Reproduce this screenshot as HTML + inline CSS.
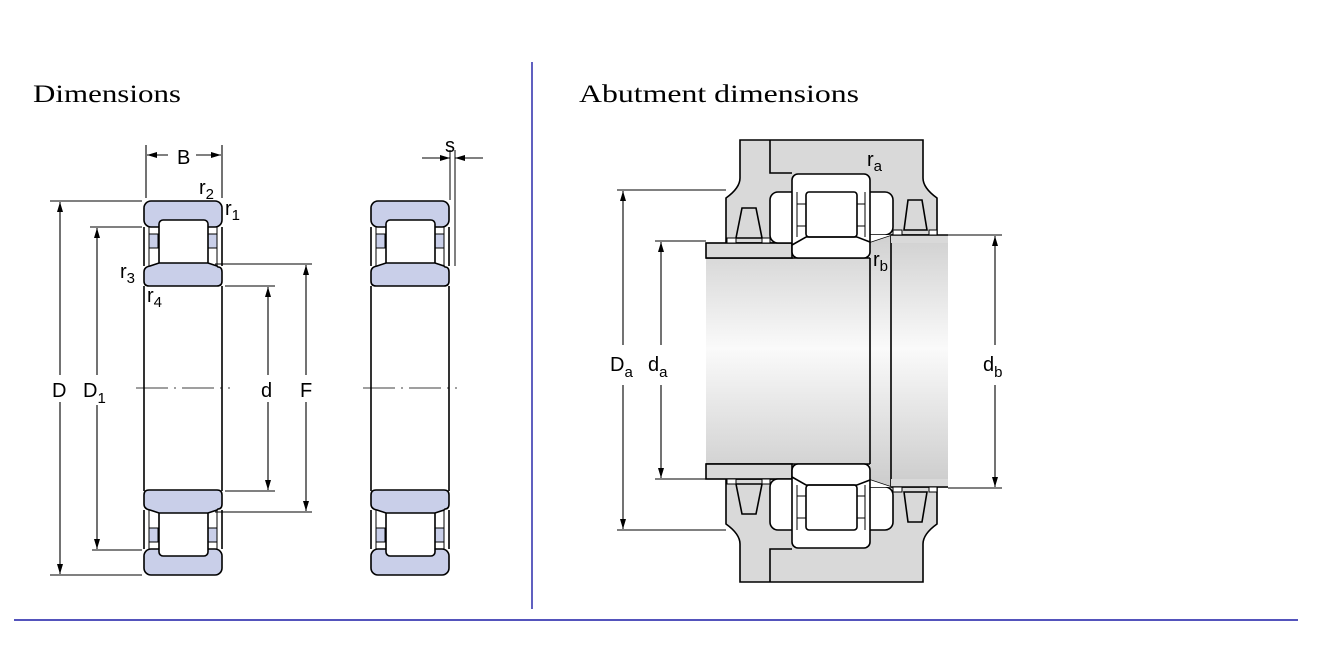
<!DOCTYPE html>
<html><head><meta charset="utf-8"><style>
html,body{margin:0;padding:0;background:#fff;}
svg{display:block;}
text{font-family:"Liberation Sans",Arial,sans-serif;font-size:20px;fill:#000;}
.t{font-family:"Liberation Serif",serif;font-size:25px;}
</style></head><body>
<svg width="1322" height="653" viewBox="0 0 1322 653" xmlns="http://www.w3.org/2000/svg">
<defs>
<marker id="a" viewBox="0 0 10 10" refX="10" refY="5" markerWidth="10" markerHeight="10" orient="auto-start-reverse" markerUnits="userSpaceOnUse"><path d="M0,2 L10,5 L0,8z" fill="#000"/></marker>
<linearGradient id="sh" x1="0" y1="0" x2="0" y2="1"><stop offset="0" stop-color="#d0d0d0"/><stop offset="0.45" stop-color="#fafafa"/><stop offset="1" stop-color="#cbcbcb"/></linearGradient>
<g id="brg">
 <rect x="144" y="201" width="78" height="26" rx="7" fill="#c9cfe9" stroke="#000" stroke-width="1.6"/>
 <line x1="144" y1="227" x2="144" y2="266" stroke="#000" stroke-width="1.6"/>
 <line x1="222" y1="227" x2="222" y2="266" stroke="#000" stroke-width="1.6"/>
 <rect x="149" y="234" width="9" height="14" fill="#c9cfe9" stroke="#000" stroke-width="1"/>
 <rect x="208" y="234" width="9" height="14" fill="#c9cfe9" stroke="#000" stroke-width="1"/>
 <line x1="149" y1="227" x2="149" y2="266" stroke="#000" stroke-width="1"/>
 <line x1="217" y1="227" x2="217" y2="266" stroke="#000" stroke-width="1"/>
 <rect x="159" y="220" width="49" height="46" rx="4" fill="#fff" stroke="#000" stroke-width="1.6"/>
 <path d="M150,266 L159,263 L208,263 L217,266 L218,267 Q222,267 222,272 L222,281 Q222,286 217,286 L149,286 Q144,286 144,281 L144,272 Q144,267 150,266z" fill="#c9cfe9" stroke="#000" stroke-width="1.6"/>
</g>
</defs>

<text class="t" x="33" y="102" textLength="148" lengthAdjust="spacingAndGlyphs">Dimensions</text>
<text class="t" x="579" y="102" textLength="280" lengthAdjust="spacingAndGlyphs">Abutment dimensions</text>

<line x1="532" y1="62" x2="532" y2="609" stroke="#1c1ca6" stroke-width="1.4"/>
<line x1="14" y1="620" x2="1298" y2="620" stroke="#1c1ca6" stroke-width="1.4"/>

<!-- bearing 1 -->
<use href="#brg"/>
<use href="#brg" transform="translate(0,776) scale(1,-1)"/>
<line x1="144" y1="286" x2="144" y2="491" stroke="#000" stroke-width="1.6"/>
<line x1="222" y1="286" x2="222" y2="491" stroke="#000" stroke-width="1.6"/>
<line x1="136" y1="388" x2="230" y2="388" stroke="#000" stroke-width="0.8" stroke-dasharray="32,6,2,6"/>
<!-- bearing 2 -->
<use href="#brg" transform="translate(227,0)"/>
<use href="#brg" transform="translate(227,776) scale(1,-1)"/>
<line x1="371" y1="286" x2="371" y2="491" stroke="#000" stroke-width="1.6"/>
<line x1="449" y1="286" x2="449" y2="491" stroke="#000" stroke-width="1.6"/>
<line x1="363" y1="388" x2="457" y2="388" stroke="#000" stroke-width="0.8" stroke-dasharray="32,6,2,6"/>
<line x1="455" y1="150" x2="455" y2="266" stroke="#000" stroke-width="1"/>
<line x1="450" y1="150" x2="450" y2="200" stroke="#000" stroke-width="1"/>
<line x1="422" y1="158" x2="450" y2="158" stroke="#000" stroke-width="1" marker-end="url(#a)"/>
<line x1="483" y1="158" x2="455" y2="158" stroke="#000" stroke-width="1" marker-end="url(#a)"/>
<text x="445" y="152">s</text>

<!-- dims left -->
<g stroke="#000" stroke-width="1.1" fill="none">
<line x1="146" y1="145" x2="146" y2="198"/><line x1="222" y1="145" x2="222" y2="198"/>
<line x1="147" y1="155" x2="168" y2="155" marker-start="url(#a)"/>
<line x1="196" y1="155" x2="221" y2="155" marker-end="url(#a)"/>
<line x1="50" y1="201" x2="142" y2="201"/><line x1="50" y1="575" x2="142" y2="575"/>
<line x1="60" y1="202" x2="60" y2="375" marker-start="url(#a)"/><line x1="60" y1="402" x2="60" y2="574" marker-end="url(#a)"/>
<line x1="90" y1="227" x2="142" y2="227"/><line x1="92" y1="550" x2="142" y2="550"/>
<line x1="97" y1="228" x2="97" y2="375" marker-start="url(#a)"/><line x1="97" y1="405" x2="97" y2="549" marker-end="url(#a)"/>
<line x1="225" y1="286" x2="275" y2="286"/><line x1="225" y1="491" x2="275" y2="491"/>
<line x1="268" y1="287" x2="268" y2="375" marker-start="url(#a)"/><line x1="268" y1="402" x2="268" y2="490" marker-end="url(#a)"/>
<line x1="215" y1="264" x2="312" y2="264"/><line x1="215" y1="512" x2="312" y2="512"/>
<line x1="306" y1="265" x2="306" y2="375" marker-start="url(#a)"/><line x1="306" y1="402" x2="306" y2="511" marker-end="url(#a)"/>
</g>
<text x="177" y="164">B</text>
<text x="52" y="397">D</text>
<text x="83" y="397">D<tspan font-size="15" dy="6">1</tspan></text>
<text x="261" y="397">d</text>
<text x="300" y="397">F</text>
<text x="199" y="194">r<tspan font-size="15" dy="5">2</tspan></text>
<text x="225" y="215">r<tspan font-size="15" dy="5">1</tspan></text>
<text x="120" y="278">r<tspan font-size="15" dy="5">3</tspan></text>
<text x="147" y="302">r<tspan font-size="15" dy="5">4</tspan></text>

<!-- abutment -->
<path d="M706,258 L870,258 L870,242 L891,235 L948,235 L948,488 L891,488 L870,481 L870,464 L706,464z" fill="url(#sh)"/>
<g stroke="#000" stroke-width="1.6" fill="none">
<line x1="706" y1="258" x2="870" y2="258"/><line x1="706" y1="464" x2="870" y2="464"/>
<line x1="870" y1="258" x2="870" y2="464"/><line x1="891" y1="235" x2="891" y2="488"/>
</g>
<g id="top">
<path d="M740,140 L923,140 L923,178 Q923,188 937,198 L937,235 L891,235 L870,242 L792,243 L726,243 L726,198 Q740,188 740,178z" fill="#d9d9d9" stroke="#000" stroke-width="1.6"/>
<rect x="706" y="243" width="86" height="15" fill="#d9d9d9" stroke="#000" stroke-width="1.6"/>
<rect x="891" y="235" width="57" height="8" fill="#d9d9d9"/>
<line x1="891" y1="235" x2="948" y2="235" stroke="#000" stroke-width="1.6"/>
<path d="M770,140 L770,173 L792,173" fill="none" stroke="#000" stroke-width="1.6"/>
<rect x="770" y="192" width="30" height="51" rx="8" fill="#fff" stroke="#000" stroke-width="1.6"/>
<rect x="862" y="192" width="31" height="43" rx="8" fill="#fff" stroke="#000" stroke-width="1.6"/>
<path d="M870,235 L891,235 L870,242z" fill="#fff"/>
<rect x="792" y="174" width="78" height="84" rx="6" fill="#fff" stroke="#000" stroke-width="1.6"/>
<line x1="797" y1="192" x2="797" y2="237" stroke="#000"/><line x1="865" y1="192" x2="865" y2="237" stroke="#000"/>
<rect x="797" y="204" width="9" height="22" fill="#fff" stroke="#000"/>
<rect x="857" y="204" width="8" height="22" fill="#fff" stroke="#000"/>
<rect x="806" y="192" width="51" height="45" rx="3" fill="#fff" stroke="#000" stroke-width="1.6"/>
<path d="M792,245 L806,237 L857,237 L870,242" fill="none" stroke="#000" stroke-width="1.6"/>
<polygon points="736,238 742,208 756,208 762,238" fill="#d9d9d9" stroke="#000" stroke-width="1.6"/>
<rect x="727" y="238" width="9" height="5" fill="#fff" stroke="#000"/><rect x="762" y="238" width="8" height="5" fill="#fff" stroke="#000"/>
<polygon points="904,230 908,200 922,200 927,230" fill="#d9d9d9" stroke="#000" stroke-width="1.6"/>
<rect x="893" y="230" width="9" height="5" fill="#fff" stroke="#000"/><rect x="929" y="230" width="8" height="5" fill="#fff" stroke="#000"/>
</g>
<use href="#top" transform="translate(0,722) scale(1,-1)"/>

<g stroke="#000" stroke-width="1.1" fill="none">
<line x1="617" y1="190" x2="726" y2="190"/><line x1="617" y1="530" x2="726" y2="530"/>
<line x1="623" y1="191" x2="623" y2="345" marker-start="url(#a)"/><line x1="623" y1="385" x2="623" y2="529" marker-end="url(#a)"/>
<line x1="655" y1="241" x2="706" y2="241"/><line x1="655" y1="479" x2="706" y2="479"/>
<line x1="661" y1="242" x2="661" y2="345" marker-start="url(#a)"/><line x1="661" y1="385" x2="661" y2="478" marker-end="url(#a)"/>
<line x1="948" y1="235" x2="1002" y2="235"/><line x1="948" y1="488" x2="1002" y2="488"/>
<line x1="995" y1="236" x2="995" y2="345" marker-start="url(#a)"/><line x1="995" y1="385" x2="995" y2="487" marker-end="url(#a)"/>
</g>
<text x="610" y="371">D<tspan font-size="15" dy="6">a</tspan></text>
<text x="648" y="371">d<tspan font-size="15" dy="6">a</tspan></text>
<text x="983" y="371">d<tspan font-size="15" dy="6">b</tspan></text>
<text x="867" y="166">r<tspan font-size="15" dy="5">a</tspan></text>
<text x="873" y="266">r<tspan font-size="15" dy="5">b</tspan></text>
</svg>
</body></html>
